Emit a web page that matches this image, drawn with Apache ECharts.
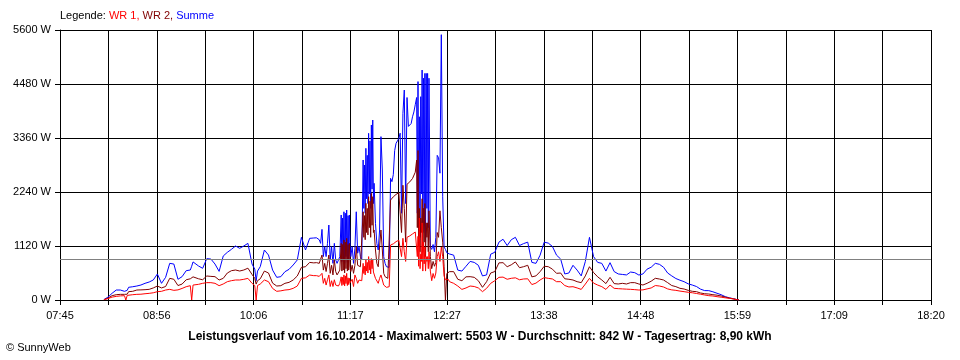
<!DOCTYPE html>
<html>
<head>
<meta charset="utf-8">
<script src="https://cdn.jsdelivr.net/npm/echarts@6/dist/echarts.min.js"></script>
<style>
html,body{margin:0;padding:0;background:#fff;}
#chart{width:960px;height:360px;}
</style>
</head>
<body>
<div id="chart"></div>
<script>
// ---- data ----
const times = [
"08:17","08:20","08:23","08:26","08:29","08:32","08:33","08:34","08:35","08:38","08:41","08:44","08:47","08:50","08:53","08:56","08:59",
"09:02","09:05","09:08","09:11","09:14","09:17","09:20","09:21","09:22","09:23","09:26","09:29","09:32","09:35","09:38","09:41","09:44","09:47","09:50","09:53","09:56","09:59",
"10:02","10:05","10:07","10:08","10:09","10:11","10:14","10:17","10:20","10:23","10:26","10:29","10:32","10:35","10:38","10:41","10:44","10:47","10:50",
"10:51","10:52","10:53","10:54","10:55","10:56","10:57","10:58","10:59",
"11:00","11:01","11:02","11:03","11:04","11:05","11:06","11:07","11:08","11:09",
"11:10","11:10:30","11:11","11:11:30","11:12","11:12:30","11:13","11:13:30","11:14","11:14:30","11:15","11:15:30","11:16","11:16:30","11:17",
"11:18","11:19","11:20","11:21","11:22","11:23","11:24","11:25",
"11:26","11:26:30","11:27","11:27:30","11:28","11:28:30","11:29","11:29:30","11:30","11:30:30","11:31","11:31:30","11:32","11:32:30","11:33","11:33:30","11:34",
"11:35","11:36","11:37","11:38","11:39","11:40","11:41","11:42","11:43","11:44",
"11:45","11:46","11:47","11:48","11:49","11:50","11:51","11:52","11:53","11:54",
"11:55","11:56","11:57","11:58","11:59","12:00","12:01","12:02","12:03","12:04",
"12:05","12:05:30","12:06","12:06:30","12:07","12:07:30","12:08","12:08:30","12:09","12:09:30","12:10","12:10:30","12:11","12:11:30","12:12","12:12:30","12:13","12:13:30",
"12:14","12:15","12:16","12:17","12:18","12:19","12:20","12:21","12:22","12:23","12:24","12:25","12:26","12:27","12:28",
"12:29","12:32","12:35","12:38","12:41","12:44","12:47","12:50","12:53","12:56","12:59",
"13:02","13:05","13:08","13:11","13:14","13:17","13:20","13:23","13:26","13:29","13:32","13:35","13:38","13:41","13:44","13:47","13:50","13:53","13:56","13:59",
"14:02","14:05","14:08","14:11","14:14","14:17","14:20","14:23","14:26","14:29","14:32","14:35","14:38","14:41","14:44","14:47","14:50","14:53","14:56","14:59",
"15:02","15:05","15:08","15:11","15:14","15:17","15:20","15:23","15:26","15:29","15:32","15:35","15:38","15:41","15:44","15:47","15:50","15:53","15:56","15:59","16:00"
];

const summe = [
10,60,140,207,207,180,140,200,263,275,290,311,346,373,415,539,346,
470,760,746,430,484,608,622,700,790,809,705,657,857,850,746,594,912,989,1051,1120,1072,1120,
1175,746,640,400,600,691,1037,933,620,470,484,587,636,726,830,1300,1037,1279,1286,
1300,1290,1280,1250,1175,1465,900,1106,900,
1175,1555,830,1106,760,1175,830,760,795,900,
1763,800,1700,850,1830,760,1800,900,1866,780,1750,830,1763,1100,900,
1106,760,1070,1830,970,1106,900,830,
2904,1900,2800,1800,3146,2100,3000,2000,3457,2200,3300,1900,3630,2300,3733,2000,2420,
1590,1175,1037,1452,3388,2696,900,760,690,657,
677,2524,2454,2600,3100,3250,3300,3350,3460,1800,
3870,4355,2000,4200,3600,3560,3660,3800,3900,4050,
4200,1800,4530,1500,3800,1300,4217,2200,4770,1400,4600,1600,4700,1200,4700,1900,4700,1500,
4600,1100,1050,1150,1000,1300,3000,2950,2630,5503,2140,1100,1050,980,1000,
954,930,620,600,700,800,780,720,500,520,950,
990,1200,1260,1130,1250,1300,1130,1170,1200,780,760,930,1200,1180,1110,930,850,540,560,720,
620,500,800,1300,900,780,760,600,774,590,540,530,520,580,567,518,540,640,680,760,
740,680,560,500,445,410,380,335,310,280,225,195,194,170,140,110,70,45,25,5,0
];

const wr2 = [
5,40,90,110,117,117,100,120,173,180,207,210,214,221,250,290,250,
280,449,430,300,330,420,440,470,480,484,440,420,498,490,484,415,449,560,608,622,601,622,
660,530,450,330,400,440,600,560,350,290,297,346,366,415,498,677,690,780,770,
780,775,770,760,740,933,620,760,590,
760,933,553,720,520,830,590,520,553,620,
1175,600,1150,620,1245,560,1200,650,1279,600,1150,620,1175,700,590,
720,553,720,1106,720,760,690,720,
1830,1300,1750,1250,2005,1400,1900,1350,2143,1500,2050,1300,2212,1550,2143,1400,1452,
1037,760,690,1106,1452,1037,553,484,449,449,
449,2074,2100,2140,2170,2190,2210,2225,2240,1400,
2380,1900,1200,2400,2420,2450,2480,2520,2560,2650,
2900,1500,3100,1100,1900,1000,1700,1400,2100,1000,1900,1200,2000,900,1600,1300,1600,1000,
1850,900,650,800,700,780,1400,1300,1850,1500,1200,700,0,550,560,
588,588,430,400,480,484,470,400,263,380,560,
590,770,774,690,730,790,670,691,720,480,500,588,700,691,640,553,560,440,430,415,
380,360,500,690,570,480,415,340,470,340,332,346,332,360,360,332,311,346,390,450,
435,415,360,300,277,242,228,200,180,173,145,130,124,110,100,83,60,40,25,5,0
];

const wr1 = [
5,30,60,75,85,90,0,95,104,110,117,120,130,138,150,173,180,
207,221,200,210,240,276,297,0,310,318,325,346,360,360,346,297,332,380,401,415,415,429,
449,346,300,0,300,332,415,380,240,180,190,207,215,242,290,449,460,518,505,
505,505,500,490,480,553,346,449,310,
420,520,280,400,280,420,310,280,290,346,
480,300,470,320,520,290,500,340,553,300,460,320,449,360,346,
430,280,520,449,346,415,380,400,
760,550,700,520,830,600,780,560,900,620,820,540,860,650,830,580,553,
449,415,346,449,520,415,310,276,262,262,
276,1140,1150,1165,1190,1210,1225,1240,1250,900,
1280,1000,800,1300,1310,1330,1350,1370,1390,1410,
1430,900,1320,700,1700,650,950,800,1600,600,1200,750,1100,600,900,800,900,650,
1000,600,400,550,450,560,900,1000,800,1100,900,500,420,420,430,
380,346,290,220,250,290,280,250,173,242,346,
400,470,475,430,450,460,420,436,440,320,350,415,465,449,436,380,380,300,270,276,
250,220,330,449,350,310,277,220,311,242,235,230,225,221,215,207,210,230,250,300,
290,270,230,210,200,185,173,160,150,135,120,104,90,83,69,58,45,35,20,5,0
];

const average = 842;
const xStart = "07:45";
const xEnd = "18:20";
const xSteps = 18;
const yTicks = [0, 1120, 2240, 3360, 4480, 5600];
const titleText = "Leistungsverlauf vom 16.10.2014 - Maximalwert: 5503 W - Durchschnitt: 842 W - Tagesertrag: 8,90 kWh";

// ---- helpers ----
[summe, wr2, wr1].forEach((a, i) => {
  if (a.length !== times.length) throw new Error('length mismatch series ' + i + ': ' + a.length + ' vs ' + times.length);
});
function toMin(t) { const p = t.split(':'); return (+p[0]) * 60 + (+p[1]) + (p[2] ? (+p[2]) / 60 : 0); }
function pad(n) { return (n < 10 ? '0' : '') + n; }
const t0 = toMin(xStart);
const span = toMin(xEnd) - t0;
const step = span / xSteps;
const pairs = arr => times.map((t, i) => [toMin(t) - t0, arr[i]]);

const FONT = '"Liberation Sans", Arial, sans-serif';
const chart = echarts.init(document.getElementById('chart'), null, { renderer: 'canvas' });

const lineSeries = (name, data, color, extra) => Object.assign({
  name: name,
  type: 'line',
  data: pairs(data),
  showSymbol: false,
  symbol: 'none',
  silent: true,
  animation: false,
  lineStyle: { color: color, width: 1 },
  itemStyle: { color: color },
  emphasis: { disabled: true }
}, extra || {});

chart.setOption({
  animation: false,
  backgroundColor: '#ffffff',
  grid: { left: 60, right: 29, top: 30, bottom: 60, containLabel: false },
  xAxis: {
    type: 'value',
    min: 0,
    max: span,
    interval: step,
    axisLine: { show: true, lineStyle: { color: '#000', width: 1 } },
    axisTick: { show: true, length: 5, lineStyle: { color: '#000', width: 1 } },
    splitLine: { show: true, lineStyle: { color: '#000', width: 1 } },
    axisLabel: {
      show: true,
      margin: 10,
      color: '#000',
      fontSize: 11,
      fontFamily: FONT,
      showMinLabel: true,
      showMaxLabel: true,
      hideOverlap: false,
      formatter: function (v) {
        const k = Math.round(v / step);
        if (k % 2 !== 0) return '';
        const m = Math.round(t0 + v);
        return pad(Math.floor(m / 60)) + ':' + pad(m % 60);
      }
    }
  },
  yAxis: {
    type: 'value',
    min: yTicks[0],
    max: yTicks[yTicks.length - 1],
    interval: yTicks[1] - yTicks[0],
    axisLine: { show: true, lineStyle: { color: '#000', width: 1 } },
    axisTick: { show: true, length: 5, lineStyle: { color: '#000', width: 1 } },
    splitLine: { show: true, lineStyle: { color: '#000', width: 1 } },
    axisLabel: {
      margin: 9,
      color: '#000',
      fontSize: 11,
      fontFamily: FONT,
      formatter: function (v) { return String(Math.round(v)) + ' W'; }
    }
  },
  series: [
    lineSeries('Summe', summe, '#0000ff', {
      markLine: {
        silent: true,
        symbol: 'none',
        animation: false,
        label: { show: false },
        lineStyle: { color: '#808080', type: 'solid', width: 1 },
        data: [{ yAxis: average }]
      }
    }),
    lineSeries('WR 2', wr2, '#800000'),
    lineSeries('WR 1', wr1, '#ff0000')
  ],
  graphic: [
    {
      type: 'text', left: 60, top: 10, silent: true,
      style: {
        text: '{k|Legende: }{a|WR 1, }{b|WR 2, }{c|Summe}',
        font: '11px ' + FONT,
        rich: {
          k: { fill: '#000', fontSize: 11, fontFamily: FONT },
          a: { fill: '#ff0000', fontSize: 11, fontFamily: FONT },
          b: { fill: '#800000', fontSize: 11, fontFamily: FONT },
          c: { fill: '#0000ff', fontSize: 11, fontFamily: FONT }
        }
      }
    },
    {
      type: 'text', x: 480, y: 337, silent: true,
      style: {
        text: titleText, fill: '#000', font: 'bold 12px ' + FONT,
        textAlign: 'center', textVerticalAlign: 'middle'
      }
    },
    {
      type: 'text', x: 6, y: 348, silent: true,
      style: {
        text: '\u00A9 SunnyWeb', fill: '#000', font: '11px ' + FONT,
        textAlign: 'left', textVerticalAlign: 'middle'
      }
    }
  ]
});
</script>
</body>
</html>
